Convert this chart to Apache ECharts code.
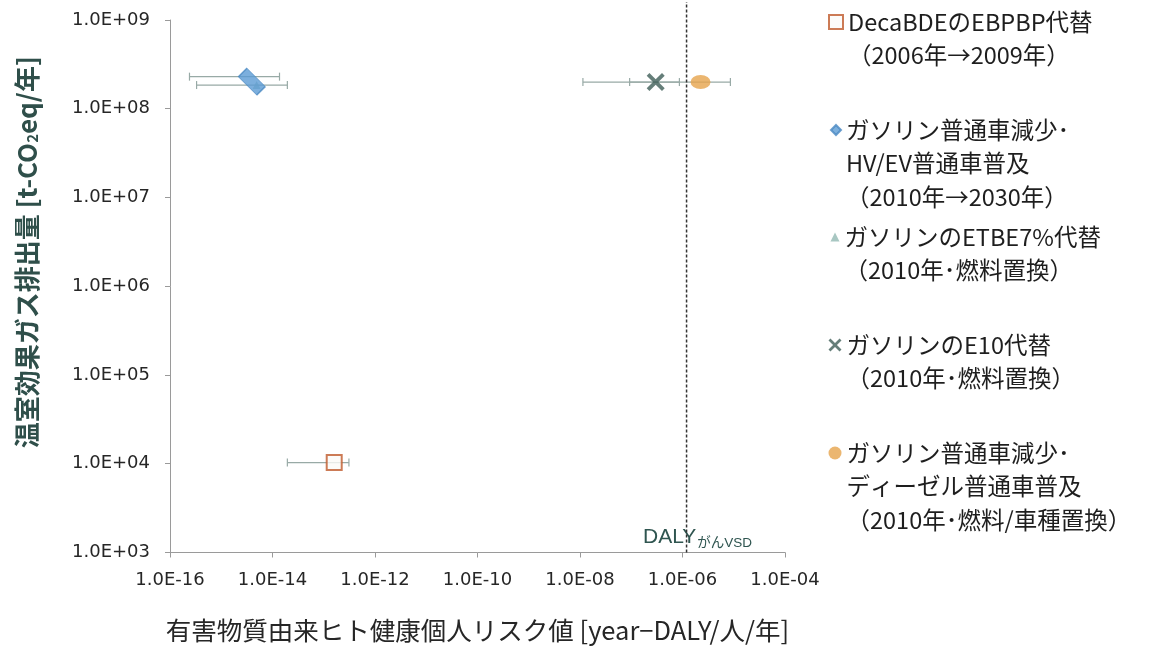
<!DOCTYPE html>
<html>
<head>
<meta charset="utf-8">
<script src="https://cdn.jsdelivr.net/npm/echarts@6/dist/echarts.min.js"></script>
<style>
  html, body { margin: 0; background: #fff; }
  #chart { width: 1151px; height: 648px; }
</style>
</head>
<body>
<div id="chart"></div>
<script>
// series names (legend text, line breaks as in the figure)
var seriesNames = [
  'DecaBDEのEBPBP代替\n（2006年→2009年）',
  'ガソリン普通車減少･\nHV/EV普通車普及\n（2010年→2030年）',
  'ガソリンのETBE7%代替\n（2010年･燃料置換）',
  'ガソリンのE10代替\n（2010年･燃料置換）',
  'ガソリン普通車減少･\nディーゼル普通車普及\n（2010年･燃料/車種置換）'
];

// [risk, CO2]
var decaPoint = [[1.6e-13, 1.03e4]];
var hvPoint = [[3.3e-15, 2.3e8]];
var etbePoint = [[4.9e-15, 1.85e8]];
var e10Point = [[3.0e-7, 2.0e8]];
var dieselPoint = [[2.25e-6, 2.0e8]];

// error bars [low, high, CO2]
var decaErr = [[1.95e-14, 3.1e-13, 1.03e4]];
var hvErr = [[2.4e-16, 1.37e-14, 2.3e8]];
var etbeErr = [[3.3e-16, 1.95e-14, 1.85e8]];
var e10Err = [[1.14e-8, 8.7e-7, 2.0e8]];
var dieselErr = [[9.3e-8, 8.6e-6, 2.0e8]];

// DALY VSD reference line
var dalyLine = [[1.2e-6, 1e3], [1.2e-6, 1.6e9]];

var xTickLabels = ['1.0E-16', '1.0E-14', '1.0E-12', '1.0E-10', '1.0E-08', '1.0E-06', '1.0E-04'];
var yTickLabels = ['1.0E+03', '1.0E+04', '1.0E+05', '1.0E+06', '1.0E+07', '1.0E+08', '1.0E+09'];

var crossPath = 'path://M3,0 L10,7 L17,0 L20,3 L13,10 L20,17 L17,20 L10,13 L3,20 L0,17 L7,10 L0,3 Z';
var jpFont = '"Noto Sans CJK JP", "Noto Sans", sans-serif';
var LH = 33.5;

function errorBarItem(params, api) {
  var y = api.value(2);
  var p1 = api.coord([api.value(0), y]);
  var p2 = api.coord([api.value(1), y]);
  var h = 4;
  var st = { stroke: '#98aaa6', lineWidth: 1.2 };
  return {
    type: 'group',
    children: [
      { type: 'line', shape: { x1: p1[0], y1: p1[1], x2: p2[0], y2: p2[1] }, style: st },
      { type: 'line', shape: { x1: p1[0], y1: p1[1] - h, x2: p1[0], y2: p1[1] + h }, style: st },
      { type: 'line', shape: { x1: p2[0], y1: p2[1] - h, x2: p2[0], y2: p2[1] + h }, style: st }
    ]
  };
}

function errSeries(data) {
  return {
    type: 'custom',
    name: 'err',
    renderItem: errorBarItem,
    encode: { x: [0, 1], y: 2 },
    data: data,
    silent: true,
    z: 1
  };
}

// legend: one block per series, icon beside the first line
var legendFirstLine = [22, 130, 237, 345, 453];
var legendIcons = [
  { icon: 'rect', w: 14, h: 14 },
  { icon: 'diamond', w: 10, h: 10 },
  { icon: 'triangle', w: 9, h: 9 },
  { icon: crossPath, w: 13, h: 13 },
  { icon: 'circle', w: 13, h: 13 }
];
var legends = seriesNames.map(function (name, i) {
  var n = name.split('\n').length;
  var H = (2 * n - 1) * LH;
  var ic = legendIcons[i];
  var pad = new Array(n).join('\n');
  return {
    data: [{ name: name, icon: ic.icon }],
    left: 847 - 5 - ic.w - (14 - ic.w) / 2,
    top: legendFirstLine[i] - H / 2,
    padding: 0,
    itemWidth: ic.w,
    itemHeight: ic.h,
    selectedMode: false,
    formatter: function (nm) { return pad + nm; },
    textStyle: {
      fontFamily: jpFont,
      fontSize: 23.5,
      lineHeight: LH,
      color: '#1e1e1e'
    }
  };
});

var chart = echarts.init(document.getElementById('chart'));
chart.setOption({
  backgroundColor: '#fff',
  animation: false,
  legend: legends,
  grid: { left: 170, right: 366, top: 20, bottom: 95 },
  xAxis: {
    type: 'log',
    logBase: 10,
    min: 1e-16,
    max: 1e-4,
    interval: 2,
    name: '有害物質由来ヒト健康個人リスク値 [year−DALY/人/年]',
    nameLocation: 'middle',
    nameGap: 65,
    nameTextStyle: { fontFamily: jpFont, fontSize: 25.5, color: '#262626' },
    axisLine: { lineStyle: { color: '#9a9a9a' } },
    axisTick: { show: true, length: 5, lineStyle: { color: '#9a9a9a' } },
    splitLine: { show: false },
    minorTick: { show: false },
    axisLabel: {
      margin: 19,
      fontFamily: '"DejaVu Sans", sans-serif',
      fontSize: 18,
      color: '#262626',
      formatter: function (v) {
        return xTickLabels[Math.round((Math.log10(v) + 16) / 2)];
      }
    }
  },
  yAxis: {
    type: 'log',
    logBase: 10,
    min: 1e3,
    max: 1e9,
    interval: 1,
    name: '温室効果ガス排出量 [t-CO{sub|2}eq/年]',
    nameLocation: 'middle',
    nameGap: 130,
    nameTextStyle: {
      fontFamily: jpFont,
      fontSize: 26,
      fontWeight: 'bold',
      color: '#2f4f4a',
      padding: [0, 0, 0, 68],
      rich: {
        sub: { fontFamily: jpFont, fontSize: 15, fontWeight: 'bold', color: '#2f4f4a', padding: [10, 0, 0, 0] }
      }
    },
    axisLine: { show: true, lineStyle: { color: '#9a9a9a' } },
    axisTick: { show: true, length: 5, lineStyle: { color: '#9a9a9a' } },
    splitLine: { show: false },
    axisLabel: {
      margin: 20,
      fontFamily: '"DejaVu Sans", sans-serif',
      fontSize: 18,
      color: '#262626',
      formatter: function (v) {
        return yTickLabels[Math.round(Math.log10(v)) - 3];
      }
    }
  },
  graphic: [{
    type: 'text',
    left: 643,
    top: 527,
    style: {
      text: '{a|DALY}{b|がんVSD}',
      rich: {
        a: { fontFamily: '"Liberation Sans", sans-serif', fontSize: 21, fill: '#2f5550' },
        b: { fontFamily: '"Liberation Sans", "Noto Sans CJK JP", sans-serif', fontSize: 13.5, fill: '#2f5550', padding: [11, 0, 0, 1] }
      }
    }
  }],
  series: [
    {
      type: 'line',
      name: 'DALY',
      data: dalyLine,
      clip: false,
      showSymbol: false,
      silent: true,
      lineStyle: { color: '#333', type: [3, 2], width: 1.5 },
      z: 1
    },
    errSeries(decaErr),
    errSeries(hvErr),
    errSeries(etbeErr),
    errSeries(e10Err),
    errSeries(dieselErr),
    {
      type: 'scatter',
      name: seriesNames[0],
      data: decaPoint,
      symbol: 'rect',
      symbolSize: 15,
      itemStyle: { color: '#fbfaf7', borderColor: '#bf5a2c', borderWidth: 2 },
      z: 3
    },
    {
      type: 'scatter',
      name: seriesNames[2],
      data: etbePoint,
      symbol: 'triangle',
      symbolSize: 8,
      itemStyle: { color: '#92b9b3' },
      z: 3
    },
    {
      type: 'scatter',
      name: seriesNames[1],
      data: hvPoint,
      symbol: 'rect',
      symbolSize: [12, 26],
      symbolRotate: 45,
      symbolOffset: [4, 5],
      itemStyle: { color: '#5b9bd5', borderColor: '#4a88c2', borderWidth: 1 },
      z: 3
    },
    {
      type: 'scatter',
      name: seriesNames[3],
      data: e10Point,
      symbol: crossPath,
      symbolSize: 18,
      itemStyle: { color: '#3e5e57' },
      z: 3
    },
    {
      type: 'scatter',
      name: seriesNames[4],
      data: dieselPoint,
      symbol: 'circle',
      symbolSize: [20, 14],
      itemStyle: { color: '#e6a44c' },
      z: 3
    }
  ]
});
</script>
</body>
</html>
